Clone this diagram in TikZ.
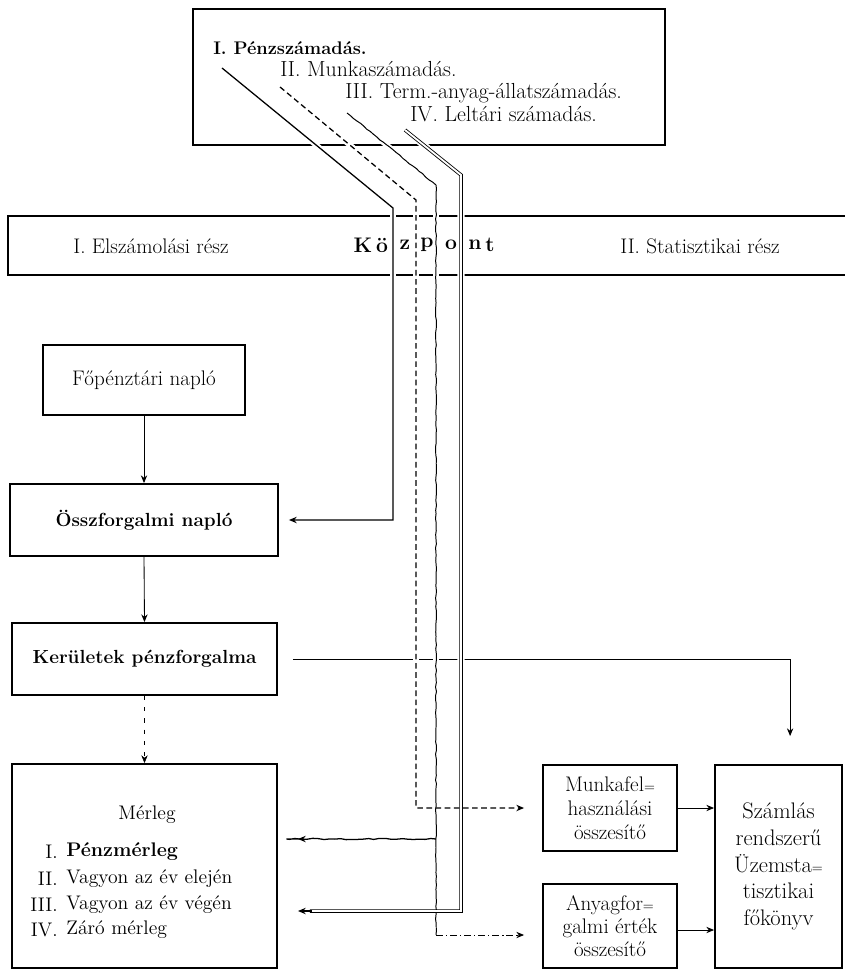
\documentclass[tikz,border=0pt]{standalone}
\usetikzlibrary{arrows.meta,decorations.pathmorphing}
\newcommand{\fs}[1]{\fontsize{#1}{1.2\dimexpr#1pt\relax}\selectfont}
\newcommand{\hy}{{\fontsize{10}{10}\selectfont=}}
\begin{document}
\pgfmathsetseed{7}
\begin{tikzpicture}[x=0.025cm,y=-0.025cm,
  every node/.style={font=\fs{15}},
  box/.style={draw,line width=1.3pt,inner sep=0pt,align=center},
  txt/.style={inner sep=0pt},
  conn/.style={line width=0.6pt},
  tip/.style={-{Stealth[length=5.5pt,width=4.5pt]}},
  gap/.style={draw=white,line width=4pt},
  lineI/.style={line width=0.9pt},
  lineII/.style={line width=0.9pt,dash pattern=on 4pt off 2.5pt},
  lineIII/.style={line width=0.7pt,decorate,decoration={random steps,segment length=3pt,amplitude=0.35pt}},
  lineIV/.style={double,double distance=1.3pt,line width=0.6pt}
]
\useasboundingbox (0,0) rectangle (845,970);

% top box
\node[box,minimum width=11.8cm,minimum height=3.4cm] (top) at (429,77) {};
\node[txt,anchor=base west,font=\fs{13}\bfseries] (t1) at (213,55) {I. Pénzszámadás.};
\node[txt,anchor=base west,font=\fs{15.5}] (t2) at (280,77) {II. Munkaszámadás.};
\node[txt,anchor=base west,font=\fs{15.5}] (t3) at (345,99) {III. Term.-anyag-állatszámadás.};
\node[txt,anchor=base west,font=\fs{15.5}] (t4) at (410,122) {IV. Leltári számadás.};

% band
\node[box,minimum width=21.3cm,minimum height=1.475cm] (band) at (434,245.5) {};
\node[txt] (elsz) at (151,246) {I. Elszámolási rész};
\node[txt] (stat) at (700,246) {II. Statisztikai rész};
\foreach \l/\x [count=\i] in {K/363,ö/382,z/405,p/427,o/451,n/475,t/490}
  \node[txt,font=\fs{15}\bfseries] (kp\i) at (\x,245) {\l};

% left column
\node[box,minimum width=5.05cm,minimum height=1.75cm] (fo) at (144,380) {Főpénztári napló};
\node[box,minimum width=6.7cm,minimum height=1.8cm,font=\fs{13.5}\bfseries] (ossz) at (144,520) {Összforgalmi napló};
\node[box,minimum width=6.625cm,minimum height=1.8cm,font=\fs{13.5}\bfseries] (ker) at (144.5,659) {Kerületek pénzforgalma};
\node[box,minimum width=6.625cm,minimum height=5.1cm] (merleg) at (144.5,866) {};
\node[txt,font=\fs{14}] (mt) at (147,815) {Mérleg};
\node[txt,font=\fs{14},anchor=east] (m1n) at (58,852) {I.};
\node[txt,font=\fs{14}\bfseries,anchor=west] (m1) at (66,852) {Pénzmérleg};
\node[txt,font=\fs{14},anchor=east] (m2n) at (58,879) {II.};
\node[txt,font=\fs{14},anchor=west] (m2) at (66,879) {Vagyon az év elején};
\node[txt,font=\fs{14},anchor=east] (m3n) at (58,905) {III.};
\node[txt,font=\fs{14},anchor=west] (m3) at (66,905) {Vagyon az év végén};
\node[txt,font=\fs{14},anchor=east] (m4n) at (58,930) {IV.};
\node[txt,font=\fs{14},anchor=west] (m4) at (66,930) {Záró mérleg};

% right column
\node[box,minimum width=3.35cm,minimum height=2.15cm,font=\fontsize{15}{17}\selectfont] (munka) at (610,808) {Munkafel\hy\\használási\\összesítő};
\node[box,minimum width=3.35cm,minimum height=2.1cm,font=\fontsize{15}{16.5}\selectfont] (anyag) at (610,926) {Anyagfor\hy\\galmi érték\\összesítő};
\node[box,minimum width=3.175cm,minimum height=5.075cm,font=\fontsize{16}{19}\selectfont] (szamla) at (778.5,866.5) {Számlás\\rendszerű\\Üzemsta\hy\\tisztikai\\főkönyv};

% left column connectors
\draw[conn,tip] (fo.south) -- (ossz.north);
\draw[conn,tip] (ossz.south) -- (ker.north);
\draw[conn,tip,dash pattern=on 3pt off 5pt,line width=0.4pt] (ker.south) -- (merleg.north);
\draw[conn,tip,shorten <=0.375cm,shorten >=0.7cm] (ker.east) -| ([xshift=0.29cm]szamla.north);
\draw[conn,tip] (munka.east) -- (munka.east -| szamla.west);
\draw[conn,tip] ([yshift=-0.1cm]anyag.east) -- ([yshift=-0.1cm]anyag.east -| szamla.west);

% coordinates of the four account lines
\coordinate (a1) at (222,68);  \coordinate (b1) at (393,208); \coordinate (c1) at (393,520);
\coordinate (a2) at (280,87);  \coordinate (b2) at (416,200); \coordinate (c2) at (416,808);
\coordinate (a3) at (347,113); \coordinate (b3) at (436,185); \coordinate (c3) at (436,935); \coordinate (w3) at (436,839);
\coordinate (a4) at (405,130); \coordinate (b4) at (461,175); \coordinate (c4) at (461,911);

% white gaps where the lines cross borders
\draw[gap,shorten <=3pt] (a1) -- (b1) -- (c1);
\draw[gap,shorten <=3pt] (a2) -- (b2) -- (c2);
\draw[gap,shorten <=3pt] (a3) -- (b3) -- (c3);
\draw[gap,shorten <=3pt,line width=5pt] (a4) -- (b4) -- (c4);

% I. Pénzszámadás
\draw[lineI,tip,shorten >=0.25cm] (a1) -- (b1) -- (c1) -- (ossz.east);
% II. Munkaszámadás
\draw[lineII,tip,shorten >=0.45cm] (a2) -- (b2) -- (c2) -- (munka.west);
% III. Term.-anyag-állatszámadás
\draw[lineIII] (a3) -- (b3) -- (c3);
\draw[conn,tip,dash pattern=on 5pt off 2pt on 1pt off 2pt,shorten >=0.45cm] (c3) -- (c3 -| anyag.west);
\draw[line width=0.9pt,tip,shorten >=0.5cm,decorate,decoration={random steps,segment length=4pt,amplitude=0.5pt,post=lineto,post length=6pt}] (w3) -- (w3 -| merleg.east);
% IV. Leltári számadás
\draw[lineIV] (a4) -- (b4) -- (c4) -- ([xshift=0.8cm]c4 -| merleg.east);
\draw[line width=1.2pt,tip,shorten >=0.5cm] ([xshift=0.85cm]c4 -| merleg.east) -- (c4 -| merleg.east);
\end{tikzpicture}
\end{document}
